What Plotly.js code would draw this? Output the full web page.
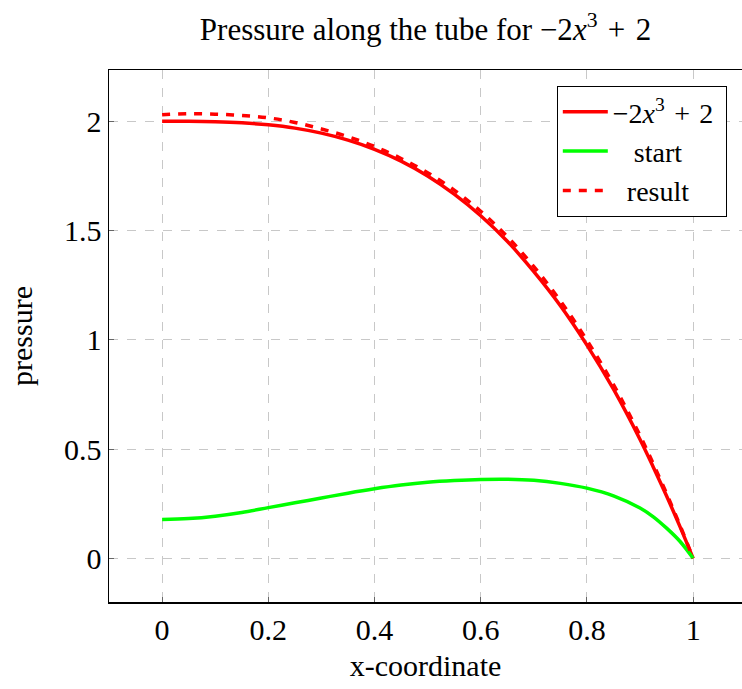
<!DOCTYPE html>
<html>
<head>
<meta charset="utf-8">
<script src="https://cdn.plot.ly/plotly-3.0.1.min.js"></script>
<style>html,body{margin:0;padding:0;background:#fff;}#chart{width:742px;height:689px;}</style>
</head>
<body>
<div id="chart"></div>
<script>
// x-coordinates along the tube
const xCoord = [0, 0.05, 0.1, 0.15, 0.2, 0.25, 0.3, 0.35, 0.4, 0.45, 0.5, 0.55, 0.6, 0.65, 0.7, 0.75, 0.8, 0.85, 0.9, 0.925, 0.95, 0.975, 1];
// -2x^3 + 2 (exact curve, read)
const exactValues = [2.000, 2.000, 1.998, 1.993, 1.984, 1.969, 1.946, 1.914, 1.872, 1.818, 1.750, 1.667, 1.568, 1.451, 1.312, 1.156, 0.976, 0.774, 0.544, 0.417, 0.285, 0.146, 0.000];
// start
const startValues = [0.178, 0.182, 0.193, 0.210, 0.232, 0.254, 0.276, 0.298, 0.318, 0.335, 0.348, 0.356, 0.361, 0.362, 0.357, 0.343, 0.321, 0.286, 0.230, 0.190, 0.138, 0.078, 0.000];
// result
const resultValues = [2.030, 2.035, 2.033, 2.027, 2.016, 1.995, 1.965, 1.930, 1.885, 1.830, 1.765, 1.685, 1.588, 1.472, 1.335, 1.178, 0.998, 0.795, 0.562, 0.432, 0.296, 0.152, 0.000];

const xTicks = [0, 0.2, 0.4, 0.6, 0.8, 1];
const xTickText = ['0', '0.2', '0.4', '0.6', '0.8', '1'];
const yTicks = [0, 0.5, 1, 1.5, 2];
const yTickText = ['0', '0.5', '1', '1.5', '2'];
const formula = '−2<i>x</i><sup>3</sup>\u2004+\u20042';
const seriesNames = [formula + '\u00a0', '\u2002\u00a0start\u2002\u00a0', '\u2002result\u2002'];
const titleText = 'Pressure along the tube for ' + formula;

const serif = 'Liberation Serif, Times New Roman, serif';

const traces = [
  {x: xCoord, y: exactValues, type: 'scatter', mode: 'lines', name: seriesNames[0],
   line: {color: '#ff0000', width: 3.5, shape: 'spline'}},
  {x: xCoord, y: startValues, type: 'scatter', mode: 'lines', name: seriesNames[1],
   line: {color: '#00ff00', width: 3.5, shape: 'spline'}},
  {x: xCoord, y: resultValues, type: 'scatter', mode: 'lines', name: seriesNames[2],
   line: {color: '#ff0000', width: 3.5, dash: '8px,8px', shape: 'spline'}}
];

const layout = {
  width: 742, height: 689,
  margin: {l: 109, r: 0, t: 70, b: 87},
  paper_bgcolor: '#fff', plot_bgcolor: '#fff',
  font: {family: serif, size: 30, color: '#000'},
  title: {text: titleText, x: 0.5, xref: 'paper', xanchor: 'center',
          y: 0.957, yref: 'container', yanchor: 'middle', font: {family: serif, size: 31}},
  xaxis: {
    range: [-0.1, 1.092], tickvals: xTicks, ticktext: xTickText,
    showgrid: true, gridcolor: '#c8c8c8', griddash: 'dash', gridwidth: 1,
    zeroline: false, showline: true, linecolor: '#000', linewidth: 1.5, mirror: true,
    ticks: 'inside', ticklen: 5, tickcolor: '#666',
    title: {text: 'x-coordinate', standoff: 10, font: {family: serif, size: 30}},
    tickfont: {family: serif, size: 30}
  },
  yaxis: {
    range: [-0.2, 2.235], tickvals: yTicks, ticktext: yTickText,
    showgrid: true, gridcolor: '#c8c8c8', griddash: 'dash', gridwidth: 1,
    zeroline: false, showline: true, linecolor: '#000', linewidth: 1.5, mirror: true,
    ticks: 'inside', ticklen: 5, tickcolor: '#666',
    title: {text: 'pressure', standoff: 22, font: {family: serif, size: 30}},
    tickfont: {family: serif, size: 30}
  },
  showlegend: true,
  legend: {x: 0.976, xanchor: 'right', y: 0.97, yanchor: 'top', bordercolor: '#000', borderwidth: 1,
           bgcolor: '#fff', font: {family: serif, size: 28}, itemwidth: 45, tracegroupgap: 0}
};

Plotly.newPlot('chart', traces, layout, {displayModeBar: false, staticPlot: true});
</script>
</body>
</html>
